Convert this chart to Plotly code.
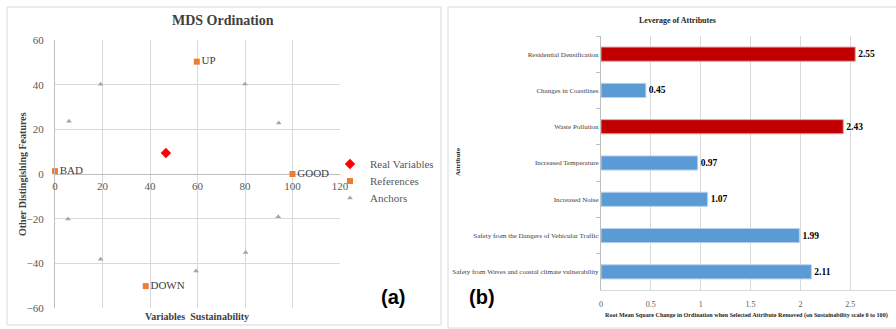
import plotly.graph_objects as go

W, H = 896, 329


def fx(p):
    """Horizontal pixel -> paper fraction."""
    return p / W


def fy(p):
    """Vertical pixel (from top) -> paper fraction."""
    return 1 - p / H


# ---------------- MDS ordination data ----------------
real_x = [46.7]
real_y = [9.4]

ref_names = ["BAD", "GOOD", "UP", "DOWN"]
ref_x = [0, 100, 59.7, 38.2]
ref_y = [1.3, 0, 50.3, -50.2]

anchor_x = [5.9, 19.2, 80.0, 94.2, 5.5, 19.2, 59.4, 80.3, 94.0]
anchor_y = [23.6, 40.2, 40.3, 22.8, -20.1, -38.2, -43.4, -35.1, -19.1]

mds_x_ticks = [0, 20, 40, 60, 80, 100, 120]
mds_y_ticks = [-60, -40, -20, 0, 20, 40, 60]

# ---------------- Leverage data (top to bottom) ----------------
attributes = [
    "Residential Densification",
    "Changes in Coastlines",
    "Waste Pollution",
    "Increased Temperature",
    "Increased Noise",
    "Safety from the Dangers of Vehicular Traffic",
    "Safety from Waves and coastal climate vulnerability",
]
rms_change = [2.55, 0.45, 2.43, 0.97, 1.07, 1.99, 2.11]
key_attribute = [True, False, True, False, False, False, False]
lev_x_ticks = [0, 0.5, 1, 1.5, 2, 2.5]
lev_x_labels = ["0", "0.5", "1", "1.5", "2", "2.5"]

SERIF = "Liberation Serif, Times New Roman, serif"
SANS = "Liberation Sans, Arial, sans-serif"
GRID = "#d9d9d9"
AXIS = "#bfbfbf"
TXT = "#595959"

fig = go.Figure()

fig.add_trace(go.Scatter(
    x=real_x, y=real_y, mode="markers", name="Real Variables",
    marker=dict(symbol="diamond", size=8, color="#ff0000"),
    xaxis="x", yaxis="y", legend="legend",
))
fig.add_trace(go.Scatter(
    x=ref_x, y=ref_y, mode="markers+text", name="References",
    text=ref_names, textposition="middle right",
    textfont=dict(family=SERIF, size=11, color="#404040"),
    marker=dict(symbol="square", size=6, color="#ed7d31"),
    xaxis="x", yaxis="y", cliponaxis=False, legend="legend2",
))
fig.add_trace(go.Scatter(
    x=anchor_x, y=anchor_y, mode="markers", name="Anchors",
    marker=dict(symbol="triangle-up", size=5, color="#a5a5a5"),
    xaxis="x", yaxis="y", legend="legend3",
))

bar_colors = ["#c00000" if k else "#5b9bd5" for k in key_attribute]
edge_colors = ["#e8a0a0" if k else "#b9d3ee" for k in key_attribute]
fig.add_trace(go.Bar(
    x=rms_change, y=attributes, orientation="h",
    marker=dict(color=bar_colors, line=dict(color=edge_colors, width=1)),
    text=[f"{v:.2f}" for v in rms_change], textposition="outside",
    textfont=dict(family=SERIF, size=9.5, color="#000000", weight="bold"),
    xaxis="x2", yaxis="y2", showlegend=False, cliponaxis=False,
))


def legend_box(py):
    return dict(
        x=fx(330), y=fy(py), xanchor="left", yanchor="middle",
        font=dict(family=SERIF, size=11, color=TXT),
        bgcolor="rgba(0,0,0,0)", borderwidth=0,
    )


def note(text, px, py, size, color="#262626", family=SERIF, angle=0, xanchor="center"):
    return dict(text=text, x=fx(px), y=fy(py), xref="paper", yref="paper",
                xanchor=xanchor, yanchor="middle", showarrow=False,
                textangle=angle, font=dict(family=family, size=size, color=color))


fig.update_layout(
    template="none",
    width=W, height=H,
    margin=dict(l=0, r=0, t=0, b=0, pad=0, autoexpand=False),
    paper_bgcolor="white", plot_bgcolor="white",
    font=dict(family=SERIF, color=TXT),
    bargap=0.61,
    xaxis=dict(
        domain=[fx(55), fx(340)], range=[0, 120], tickvals=mds_x_ticks,
        anchor="free", position=fy(174), automargin=False,
        showgrid=True, gridcolor=GRID, gridwidth=1,
        zeroline=False, showline=False, ticks="", ticklabelstandoff=4,
        tickfont=dict(family=SERIF, size=11, color=TXT),
    ),
    yaxis=dict(
        domain=[fy(308), fy(40)], range=[-60, 60], tickvals=mds_y_ticks,
        anchor="x", automargin=False,
        showgrid=True, gridcolor=GRID, gridwidth=1,
        zeroline=True, zerolinecolor=AXIS, zerolinewidth=1,
        showline=True, linecolor=AXIS, ticks="", ticklabelstandoff=8,
        tickfont=dict(family=SERIF, size=11, color=TXT),
    ),
    xaxis2=dict(
        domain=[fx(601), 1.0], range=[0, 2.959], tickvals=lev_x_ticks,
        ticktext=lev_x_labels, anchor="y2", automargin=False,
        showgrid=True, gridcolor=GRID, gridwidth=1,
        zeroline=False, showline=True, linecolor=GRID, ticks="",
        ticklabelstandoff=6,
        tickfont=dict(family=SERIF, size=8, color=TXT),
    ),
    yaxis2=dict(
        domain=[fy(290), fy(36)], anchor="x2", automargin=False,
        categoryorder="array", categoryarray=attributes, autorange="reversed",
        tickson="boundaries", ticks="outside", ticklen=4, tickcolor=AXIS,
        showgrid=False, showline=True, linecolor=AXIS,
        tickfont=dict(family=SERIF, size=7, color="#404040"),
    ),
    legend=legend_box(164),
    legend2=legend_box(181),
    legend3=legend_box(198),
    shapes=[
        dict(type="rect", xref="paper", yref="paper",
             x0=fx(7), x1=fx(441), y0=fy(325), y1=fy(7),
             line=dict(color=GRID, width=1), layer="below"),
        dict(type="rect", xref="paper", yref="paper",
             x0=fx(448), x1=fx(905), y0=fy(328), y1=fy(7),
             line=dict(color=GRID, width=1), layer="below"),
    ],
    annotations=[
        note("<b>MDS Ordination</b>", 223, 21, 14, "#404040"),
        note("<b>Other Distingishing Features</b>", 22, 174, 10, "#404040", angle=-90),
        note("<b>Variables  Sustainability</b>", 197, 316, 10, "#404040"),
        note("<b>(a)</b>", 393, 297, 20, "#000000", family=SANS),
        note("<b>Leverage of Attributes</b>", 677, 20, 8),
        note("<b>Attribute</b>", 458, 162, 7, angle=-90),
        note("<b>Root Mean Square Change in Ordination when Selected Attribute Removed "
             "(on Sustainability scale 0 to 100)</b>", 603, 315, 6.1, xanchor="left"),
        note("<b>(b)</b>", 482, 297, 20, "#000000", family=SANS),
    ],
)

fig.write_html("out.html")
